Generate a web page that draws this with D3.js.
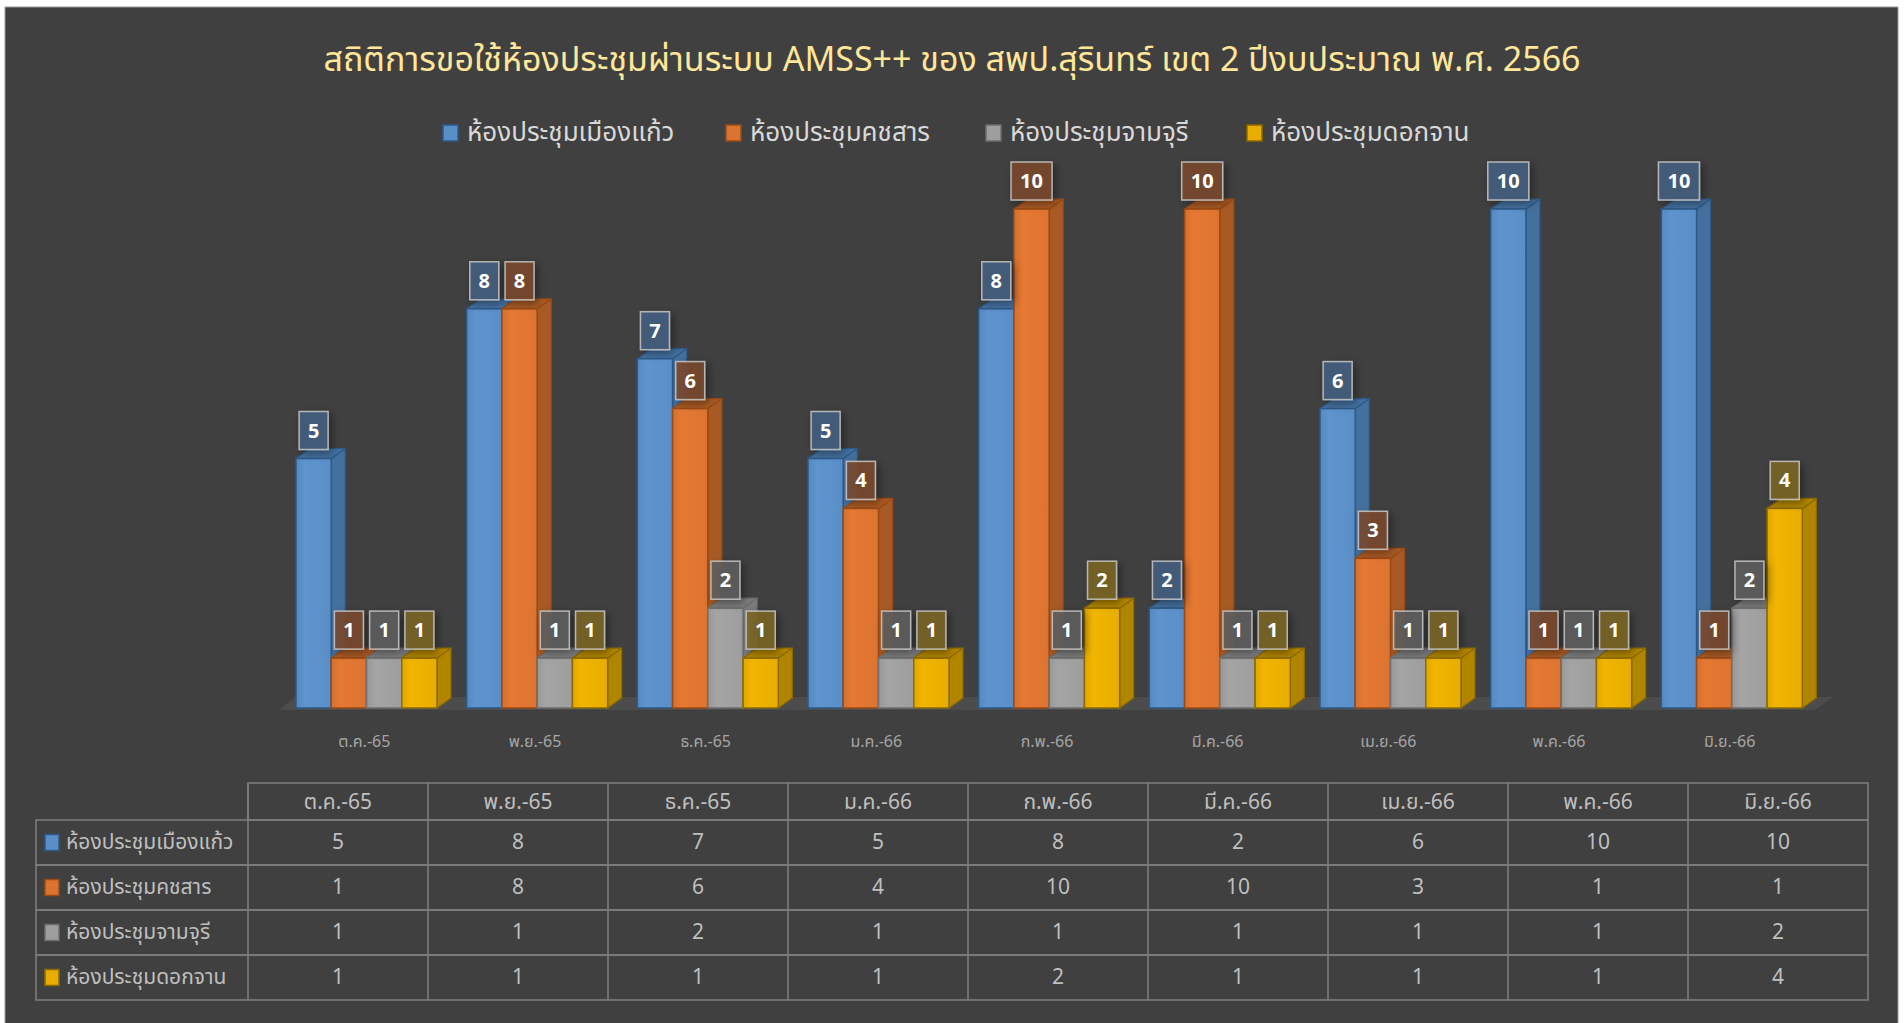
<!DOCTYPE html>
<html>
<head>
<meta charset="utf-8">
<script src="https://cdn.jsdelivr.net/npm/d3@7"></script>
<style>
body{margin:0;background:#fff;}
text{font-family:"Noto Sans Thai","Leelawadee UI",Tahoma,"Noto Sans",sans-serif;}
</style>
</head>
<body>
<script>
var svg_width=1904;
var svg_height=1023;

// data
var months=["ต.ค.-65","พ.ย.-65","ธ.ค.-65","ม.ค.-66","ก.พ.-66","มี.ค.-66","เม.ย.-66","พ.ค.-66","มิ.ย.-66"];
var rooms=["ห้องประชุมเมืองแก้ว","ห้องประชุมคชสาร","ห้องประชุมจามจุรี","ห้องประชุมดอกจาน"];
var muangKaew=[5,8,7,5,8,2,6,10,10];
var khotchasan=[1,8,6,4,10,10,3,1,1];
var chamchuri=[1,1,2,1,1,1,1,1,2];
var dokchan=[1,1,1,1,2,1,1,1,4];
var seriesValues=[muangKaew,khotchasan,chamchuri,dokchan];

var title="สถิติการขอใช้ห้องประชุมผ่านระบบ AMSS++ ของ สพป.สุรินทร์ เขต 2 ปีงบประมาณ พ.ศ. 2566";

var frontColor=["#5a8ec6","#dc7431","#9e9e9e","#e8ad00"];
var sideColor=["#44709f","#a95a24","#7c7c7c","#b18500"];
var edgeColor=["#2d5a88","#9a4a15","#6e6e6e","#8c6a00"];
var boxColor=["#45607f","#7a4a2d","#5d5d5d","#7a6427"];

var dx=14, dy=10;

var svg=d3.select("body")
    .append("svg")
    .attr("width",svg_width)
    .attr("height",svg_height);

var defs=svg.append("defs");
frontColor.forEach(function(c,i){
    var g=defs.append("linearGradient").attr("id","grad"+i)
        .attr("x1","0%").attr("x2","100%").attr("y1","0%").attr("y2","0%");
    g.append("stop").attr("offset","0%").attr("stop-color",d3.color(c).darker(0.1));
    g.append("stop").attr("offset","25%").attr("stop-color",d3.color(c).brighter(0.12));
    g.append("stop").attr("offset","100%").attr("stop-color",c);
});
var shadow=defs.append("filter").attr("id","shadow")
    .attr("x","-50%").attr("y","-50%").attr("width","200%").attr("height","200%");
shadow.append("feDropShadow").attr("dx",3).attr("dy",3).attr("stdDeviation",4)
    .attr("flood-color","#000").attr("flood-opacity",0.45);

svg.append("rect")
    .attr("x",5).attr("y",7)
    .attr("width",1893).attr("height",1020)
    .attr("fill","#404040")
    .attr("stroke","#9a9a9a");

svg.append("text")
    .text(title)
    .attr("x",952).attr("y",60)
    .attr("text-anchor","middle")
    .attr("dominant-baseline","central")
    .attr("font-size","34px")
    .attr("fill","#ffe699");

// legend
var legendX=[443,726,986,1247];
var legend=svg.selectAll("g.legend")
    .data(rooms)
    .enter()
    .append("g")
    .attr("class","legend")
    .attr("transform",function(d,i){ return "translate("+legendX[i]+",133)"; });
legend.append("rect")
    .attr("x",0).attr("y",-8)
    .attr("width",15).attr("height",16)
    .attr("fill",function(d,i){ return frontColor[i]; })
    .attr("stroke",function(d,i){ return edgeColor[i]; })
    .attr("stroke-width",1.5);
legend.append("text")
    .text(function(d){ return d; })
    .attr("x",24).attr("y",0)
    .attr("dominant-baseline","central")
    .attr("font-size","26px")
    .attr("fill","#d9d9d9");

// scales
var x=d3.scaleBand()
    .domain(months)
    .range([279,1815]);
var x1=d3.scaleBand()
    .domain(rooms)
    .range([17,158]);
var y=d3.scaleLinear()
    .domain([0,10])
    .range([708,209]);

// floor
var fx0=x.range()[0], fx1=x.range()[1], fy=710;
svg.append("polygon")
    .attr("points",[[fx0,fy],[fx0+dx+2,fy-13],[fx1+dx+4,fy-13],[fx1,fy]].join(" "))
    .attr("fill","#4c4c4c");

var records=[];
months.forEach(function(m,i){
    rooms.forEach(function(r,j){
        records.push({month:m,room:r,s:j,v:seriesValues[j][i]});
    });
});

function bx(d){ return x(d.month)+x1(d.room); }

var bars=svg.selectAll("g.bar")
    .data(records)
    .enter()
    .append("g")
    .attr("class","bar");

bars.append("polygon")
    .attr("points",function(d){
        var x0=bx(d), w=x1.bandwidth(), yt=y(d.v), yb=y(0);
        return [[x0+w,yt],[x0+w+dx,yt-dy],[x0+w+dx,yb-dy],[x0+w,yb]].join(" ");
    })
    .attr("fill",function(d){ return sideColor[d.s]; })
    .attr("stroke",function(d){ return edgeColor[d.s]; })
    .attr("stroke-width",1.2)
    .attr("stroke-linejoin","round");
bars.append("polygon")
    .attr("points",function(d){
        var x0=bx(d), w=x1.bandwidth(), yt=y(d.v);
        return [[x0,yt],[x0+dx,yt-dy],[x0+w+dx,yt-dy],[x0+w,yt]].join(" ");
    })
    .attr("fill",function(d){ return sideColor[d.s]; })
    .attr("stroke",function(d){ return edgeColor[d.s]; })
    .attr("stroke-width",1.2)
    .attr("stroke-linejoin","round");
bars.append("rect")
    .attr("x",bx)
    .attr("y",function(d){ return y(d.v); })
    .attr("width",x1.bandwidth())
    .attr("height",function(d){ return y(0)-y(d.v); })
    .attr("fill",function(d){ return "url(#grad"+d.s+")"; })
    .attr("stroke",function(d){ return edgeColor[d.s]; })
    .attr("stroke-width",1.5);

// data labels
var labels=svg.selectAll("g.lbl")
    .data(records)
    .enter()
    .append("g")
    .attr("class","lbl")
    .attr("transform",function(d){
        return "translate("+(bx(d)+x1.bandwidth()/2)+","+(y(d.v)-9-19)+")";
    });
labels.append("rect")
    .attr("x",function(d){ return d.v>=10 ? -20.5 : -14.5; })
    .attr("y",-19)
    .attr("width",function(d){ return d.v>=10 ? 41 : 29; })
    .attr("height",38)
    .attr("fill",function(d){ return boxColor[d.s]; })
    .attr("fill-opacity",0.88)
    .attr("stroke","#c8c8c8")
    .attr("stroke-opacity",0.85)
    .attr("stroke-width",1.5)
    .attr("filter","url(#shadow)");
labels.append("text")
    .text(function(d){ return d.v; })
    .attr("text-anchor","middle")
    .attr("dominant-baseline","central")
    .attr("y",1)
    .attr("font-family","'Open Sans',sans-serif")
    .attr("font-weight","bold")
    .attr("font-size","20px")
    .attr("fill","#ffffff");

// x axis
var xAxis=d3.axisBottom(x)
    .tickSize(0);
var axisG=svg.append("g")
    .attr("transform","translate(0,741)")
    .call(xAxis);
axisG.select(".domain").remove();
axisG.selectAll("text")
    .attr("y",0)
    .attr("dy","0.35em")
    .attr("fill","#a6a6a6")
    .style("font-size","16px");

// data table
var tx=d3.scaleBand()
    .domain(months)
    .range([248,1868]);
var rowTop=[820,865,910,955];
var rowH=45;
var lineColor="#7f7f7f";
var table=svg.append("g");

table.append("rect")
    .attr("x",248).attr("y",783)
    .attr("width",1620).attr("height",37)
    .attr("fill","none").attr("stroke",lineColor).attr("stroke-width",1.5);
table.selectAll("line.col")
    .data(months.slice(1))
    .enter()
    .append("line")
    .attr("x1",function(d){ return tx(d); })
    .attr("x2",function(d){ return tx(d); })
    .attr("y1",783).attr("y2",1000)
    .attr("stroke",lineColor).attr("stroke-width",1.5);
table.selectAll("rect.row")
    .data(rooms)
    .enter()
    .append("rect")
    .attr("x",36)
    .attr("y",function(d,i){ return rowTop[i]; })
    .attr("width",1832).attr("height",rowH)
    .attr("fill","none").attr("stroke",lineColor).attr("stroke-width",1.5);
table.append("line")
    .attr("x1",248).attr("x2",248)
    .attr("y1",783).attr("y2",1000)
    .attr("stroke",lineColor).attr("stroke-width",1.5);

table.selectAll("text.head")
    .data(months)
    .enter()
    .append("text")
    .text(function(d){ return d; })
    .attr("x",function(d){ return tx(d)+tx.bandwidth()/2; })
    .attr("y",802)
    .attr("text-anchor","middle")
    .attr("dominant-baseline","central")
    .attr("font-size","21px")
    .attr("fill","#bfbfbf");

var rowG=table.selectAll("g.trow")
    .data(rooms)
    .enter()
    .append("g")
    .attr("transform",function(d,i){ return "translate(0,"+(rowTop[i]+rowH/2)+")"; });
rowG.append("rect")
    .attr("x",45).attr("y",-8)
    .attr("width",14).attr("height",16)
    .attr("fill",function(d,i){ return frontColor[i]; })
    .attr("stroke",function(d,i){ return edgeColor[i]; })
    .attr("stroke-width",1.5);
rowG.append("text")
    .text(function(d){ return d; })
    .attr("x",66)
    .attr("dominant-baseline","central")
    .attr("font-size","21px")
    .attr("fill","#bfbfbf");
rowG.selectAll("text.val")
    .data(function(d,i){ return seriesValues[i]; })
    .enter()
    .append("text")
    .text(function(d){ return d; })
    .attr("x",function(d,k){ return tx(months[k])+tx.bandwidth()/2; })
    .attr("text-anchor","middle")
    .attr("dominant-baseline","central")
    .attr("font-size","21px")
    .attr("fill","#bfbfbf");
</script>
</body>
</html>
